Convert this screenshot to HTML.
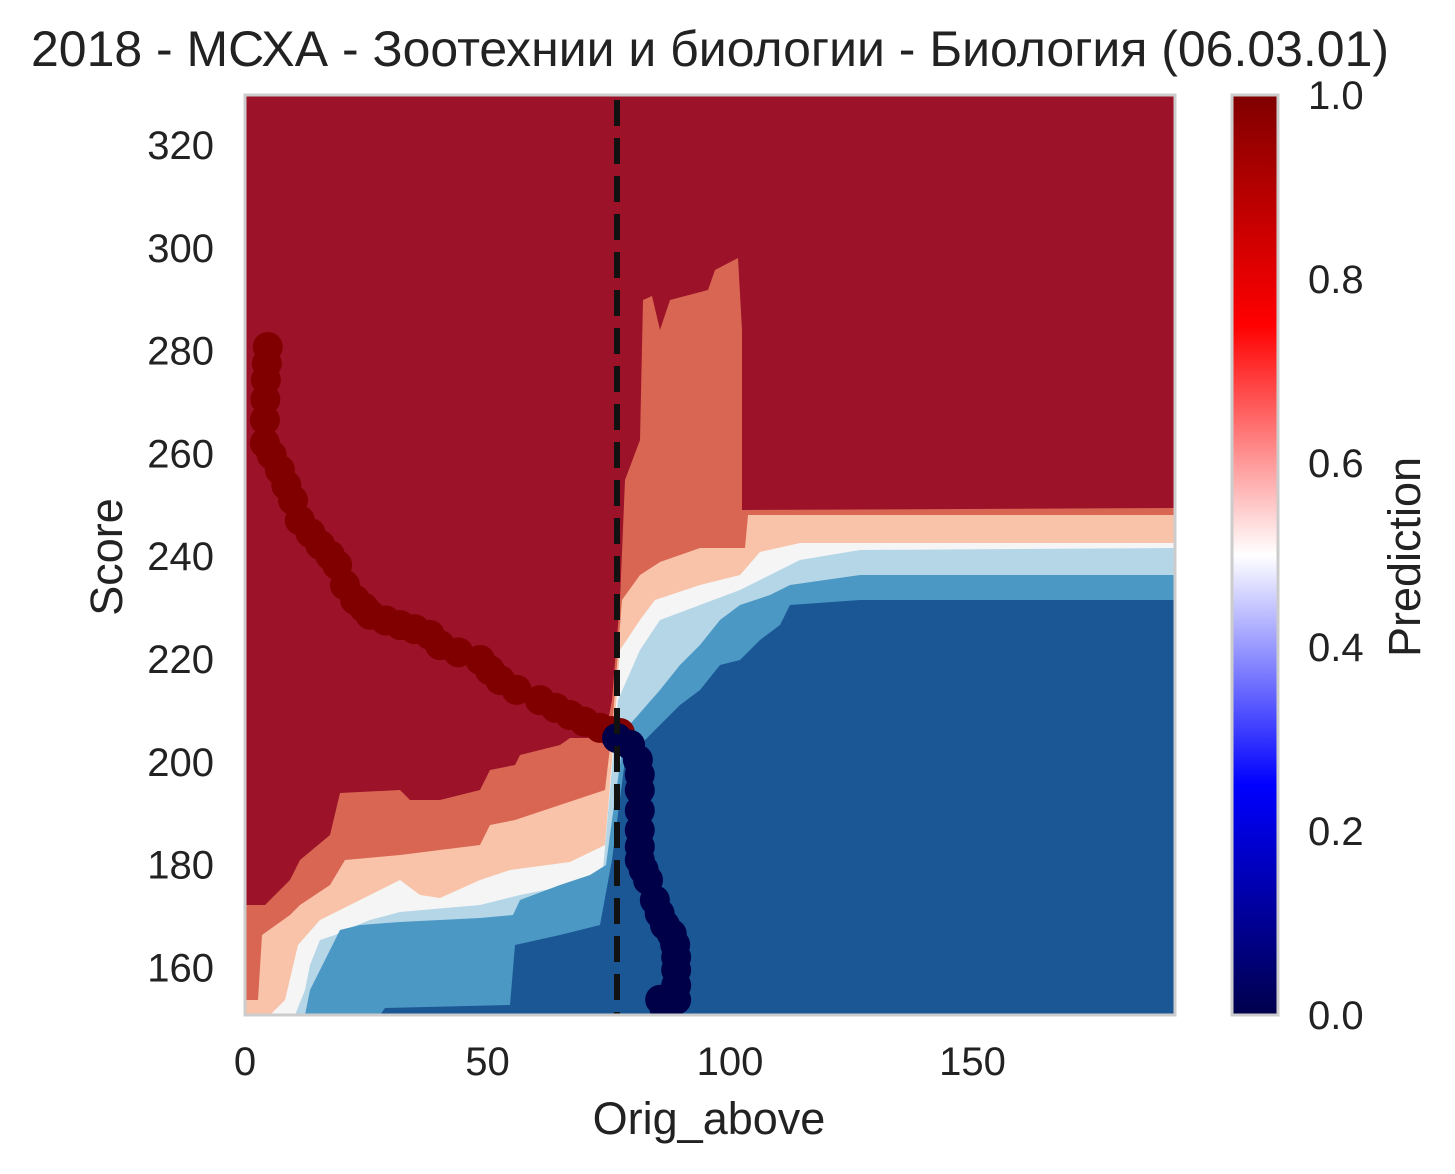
<!DOCTYPE html>
<html><head><meta charset="utf-8"><style>
html,body{margin:0;padding:0;background:#fff;}
svg{display:block;font-family:"Liberation Sans","Noto Sans CJK SC",sans-serif;}
</style></head><body>
<svg id="chart" width="1455" height="1174" viewBox="0 0 1455 1174">
<defs>
<linearGradient id="seis" x1="0" y1="1" x2="0" y2="0">
<stop offset="0" stop-color="#00004c"/><stop offset="0.25" stop-color="#0000ff"/><stop offset="0.5" stop-color="#ffffff"/><stop offset="0.75" stop-color="#ff0000"/><stop offset="1" stop-color="#800000"/>
</linearGradient>
<clipPath id="plotclip"><rect x="245" y="95" width="930" height="920"/></clipPath>
</defs>
<text x="710" y="66" font-size="50" text-anchor="middle" fill="#222" textLength="1358" lengthAdjust="spacingAndGlyphs">2018 - МСХА - Зоотехнии и биологии - Биология (06.03.01)</text>
<g id="plot" clip-path="url(#plotclip)"></g>
<g id="pts" clip-path="url(#plotclip)"></g>
<rect x="245" y="95" width="930" height="920" fill="none" stroke="#ccc" stroke-width="3"/>
<g id="axes" font-size="40" fill="#222"></g>
<text x="709" y="1134" font-size="45" text-anchor="middle" fill="#222">Orig_above</text>
<text transform="translate(122,557) rotate(-90)" font-size="45" text-anchor="middle" fill="#222">Score</text>
<rect x="1232" y="95" width="46" height="920" fill="url(#seis)" stroke="#ccc" stroke-width="3"/>
<text transform="translate(1420,557) rotate(-90)" font-size="45" text-anchor="middle" fill="#222">Prediction</text>
</svg>
<script>
const xTicks=[0,50,100,150];
const yTicks=[160,180,200,220,240,260,280,300,320];
const cbTicks=[0.0,0.2,0.4,0.6,0.8,1.0];
const thresholdX=76.7;
const redX=[4.7,4.5,4.3,4.2,4.1,4.1,5.5,7.2,8.5,9.9,11.3,13.5,15.5,17.5,19,20.6,22.7,24.5,25.8,29,32,35,38.1,40.2,44,48.5,50.5,52.6,56,60.8,64,67,70,73.2,75.5,77.3];
const redY=[280.7,277.5,274.3,270.5,266.5,262,259.7,256.8,253.8,250.9,247.0,244.5,242.2,240.2,238.3,234.4,231.5,230,228.6,227.5,226.6,225.8,224.7,222.7,221.3,219.8,217.8,215.9,214,212.0,210.5,209.1,207.8,206.6,206,205.6];
const blueX=[76.7,79.4,81,81.4,81.4,81.4,81.4,81.4,81.4,82.2,83.1,84.5,85.5,86.6,88,88.7,88.9,88.9,88.9,88.9,86.5,85.6];
const blueY=[204.6,203.3,200.4,197.5,194.5,190.5,186.7,183.5,180.9,179,177,173.1,170.5,168.2,166.5,164.4,162,159.5,156.5,153.7,152,153.7];
const X0=245,XS=4.85,Y0=145,YS=5.14;
function sx(v){return X0+v*XS;}
function sy(v){return Y0+(320-v)*YS;}
const NS="http://www.w3.org/2000/svg";
function mk(t,a,p){const e=document.createElementNS(NS,t);for(const k in a)e.setAttribute(k,a[k]);p.appendChild(e);return e;}
const contourShapes=[
{c:"#9b1229",p:[[245,95],[1175,95],[1175,1015],[245,1015]]},
{c:"#d96652",p:[[245,905],[265,905],[290,880],[300,860],[330,835],[340,793],[400,790],[410,800],[440,800],[480,790],[490,770],[515,765],[520,755],[560,745],[570,738],[605,738],[612,700],[620,600],[625,480],[640,440],[643,300],[652,296],[660,330],[670,300],[708,290],[715,270],[738,258],[742,330],[742,510],[1175,508],[1175,1015],[245,1015]]},
{c:"#f8c3a8",p:[[245,1000],[258,1000],[262,935],[290,915],[300,905],[330,885],[345,860],[400,855],[440,850],[480,845],[490,825],[515,820],[560,805],[605,790],[612,730],[622,600],[640,575],[660,562],[700,548],[745,548],[748,515],[1175,515],[1175,1015],[245,1015]]},
{c:"#f5f5f5",p:[[270,1015],[285,1000],[298,945],[320,920],[350,905],[380,890],[400,880],[420,895],[440,898],[480,880],[510,870],[570,862],[605,845],[612,760],[620,650],[640,620],[655,600],[700,585],[740,575],[760,552],[800,543],[1175,543],[1175,1015]]},
{c:"#b4d6e7",p:[[295,1015],[305,990],[310,965],[320,940],[335,935],[350,928],[370,920],[400,912],[480,905],[520,895],[570,885],[603,870],[610,790],[618,700],[640,650],[660,620],[700,605],[740,590],[780,570],[800,560],[860,550],[1175,548],[1175,1015]]},
{c:"#4b98c5",p:[[305,1015],[310,990],[325,960],[340,930],[360,925],[400,922],[480,918],[513,915],[520,900],[560,885],[590,875],[606,865],[612,820],[625,730],[660,690],[680,665],[700,645],[720,620],[740,605],[770,595],[790,585],[860,575],[1175,575],[1175,1015]]},
{c:"#1b5795",p:[[380,1015],[385,1008],[510,1005],[515,945],[560,935],[600,925],[612,860],[625,760],[650,735],[680,705],[700,690],[720,665],[740,660],[760,640],[780,625],[790,605],[860,600],[1175,600],[1175,1015]]}
];
const plot=document.getElementById('plot');
contourShapes.forEach((s,i)=>{
  const e=mk('polygon',{points:s.p.map(q=>q.join(',')).join(' '),fill:s.c},plot);
  
  
});
const pts=document.getElementById('pts');
redX.forEach((v,i)=>{
  const c=mk('circle',{cx:sx(v),cy:sy(redY[i]),r:15,fill:'#800000'},pts);
  
  
});
blueX.forEach((v,i)=>{
  const c=mk('circle',{cx:sx(v),cy:sy(blueY[i]),r:15,fill:'#000048'},pts);
  
  
});
const dl=mk('line',{x1:sx(thresholdX),x2:sx(thresholdX),y1:100,y2:1015,stroke:'#111','stroke-width':6,'stroke-dasharray':'26,12'},pts);


const axes=document.getElementById('axes');
xTicks.forEach(v=>{
  const t=mk('text',{x:sx(v),y:1075,'text-anchor':'middle'},axes);t.textContent=v;
  
  
});
yTicks.forEach(v=>{
  const t=mk('text',{x:214,y:sy(v)+14,'text-anchor':'end'},axes);t.textContent=v;
  
  
});
cbTicks.forEach(v=>{
  const t=mk('text',{x:1308,y:1015-v*920+14},axes);t.textContent=v.toFixed(1);
  
  
});
</script>
</body></html>
